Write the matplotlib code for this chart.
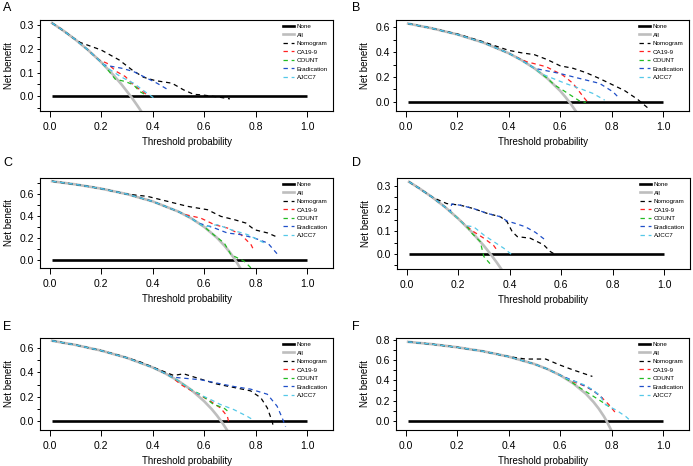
import matplotlib
matplotlib.use("Agg")
import matplotlib.pyplot as plt
from matplotlib.lines import Line2D

plt.rcParams['font.family'] = ['Liberation Sans', 'DejaVu Sans']

# ---- panel A ----
a_all_x = [0.01, 0.05, 0.10, 0.15, 0.20, 0.25, 0.28, 0.30, 0.32, 0.34, 0.36]
a_all_y = [0.308, 0.279, 0.239, 0.194, 0.144, 0.087, 0.049, 0.021, -0.007, -0.038, -0.070]
a_nomo_x = [0.12, 0.20, 0.27, 0.32, 0.365, 0.41, 0.475, 0.52, 0.56, 0.59, 0.66, 0.70]
a_nomo_y = [0.226, 0.195, 0.153, 0.111, 0.080, 0.066, 0.055, 0.027, 0.008, 0.006, -0.004, -0.011]
a_ca_x = [0.19, 0.223, 0.26, 0.294, 0.326, 0.352, 0.378]
a_ca_y = [0.154, 0.139, 0.104, 0.083, 0.048, 0.027, 0.006]
a_count_x = [0.22, 0.255, 0.294, 0.326, 0.35, 0.378]
a_count_y = [0.120, 0.072, 0.062, 0.048, 0.020, 0.003]
a_erad_x = [0.21, 0.28, 0.326, 0.378, 0.417, 0.456]
a_erad_y = [0.132, 0.118, 0.104, 0.076, 0.055, 0.030]
a_ajcc_x = [0.22, 0.236, 0.275, 0.326, 0.378, 0.41]
a_ajcc_y = [0.122, 0.111, 0.083, 0.055, 0.013, -0.011]

# ---- panel B ----
b_all_x = [0.01, 0.10, 0.20, 0.30, 0.40, 0.45, 0.50, 0.55, 0.60, 0.62, 0.64, 0.66]
b_all_y = [0.631, 0.594, 0.544, 0.479, 0.392, 0.336, 0.270, 0.189, 0.088, 0.039, -0.014, -0.074]
b_nomo_x = [0.20, 0.30, 0.35, 0.40, 0.45, 0.50, 0.55, 0.60, 0.65, 0.70, 0.75, 0.80, 0.85, 0.90, 0.94]
b_nomo_y = [0.548, 0.485, 0.450, 0.415, 0.395, 0.380, 0.340, 0.290, 0.270, 0.235, 0.190, 0.140, 0.090, 0.020, -0.050]
b_ca_x = [0.42, 0.47, 0.545, 0.61, 0.65, 0.675, 0.70, 0.71]
b_ca_y = [0.370, 0.323, 0.283, 0.215, 0.148, 0.080, 0.013, 0.000]
b_count_x = [0.55, 0.578, 0.61, 0.65, 0.68, 0.70]
b_count_y = [0.189, 0.135, 0.094, 0.040, 0.000, -0.005]
b_erad_x = [0.50, 0.597, 0.675, 0.753, 0.805, 0.83]
b_erad_y = [0.270, 0.229, 0.188, 0.148, 0.080, 0.027]
b_ajcc_x = [0.53, 0.62, 0.675, 0.727, 0.773]
b_ajcc_y = [0.223, 0.148, 0.108, 0.067, 0.013]

# ---- panel C ----
c_all_x = [0.01, 0.10, 0.20, 0.30, 0.40, 0.50, 0.55, 0.60, 0.65, 0.68, 0.70, 0.72, 0.74]
c_all_y = [0.717, 0.689, 0.650, 0.600, 0.533, 0.440, 0.378, 0.300, 0.200, 0.125, 0.067, 0.000, -0.077]
c_nomo_x = [0.30, 0.38, 0.457, 0.535, 0.613, 0.665, 0.717, 0.762, 0.795, 0.847, 0.886]
c_nomo_y = [0.600, 0.579, 0.534, 0.488, 0.457, 0.396, 0.366, 0.335, 0.274, 0.244, 0.204]
c_ca_x = [0.52, 0.587, 0.64, 0.69, 0.743, 0.782, 0.795]
c_ca_y = [0.416, 0.380, 0.320, 0.290, 0.229, 0.137, 0.076]
c_count_x = [0.64, 0.678, 0.704, 0.756, 0.782]
c_count_y = [0.222, 0.152, 0.046, -0.015, -0.076]
c_erad_x = [0.58, 0.64, 0.69, 0.743, 0.795, 0.847, 0.886]
c_erad_y = [0.333, 0.290, 0.244, 0.229, 0.198, 0.152, 0.046]
c_ajcc_x = [0.60, 0.652, 0.704, 0.769, 0.834]
c_ajcc_y = [0.300, 0.320, 0.274, 0.229, 0.152]

# ---- panel D ----
d_all_x = [0.01, 0.05, 0.10, 0.15, 0.20, 0.25, 0.30, 0.33, 0.35, 0.37]
d_all_y = [0.318, 0.289, 0.250, 0.206, 0.156, 0.100, 0.036, -0.007, -0.038, -0.071]
d_nomo_x = [0.10, 0.156, 0.208, 0.26, 0.312, 0.364, 0.39, 0.41, 0.43, 0.48, 0.532, 0.558, 0.578]
d_nomo_y = [0.250, 0.222, 0.215, 0.200, 0.179, 0.164, 0.142, 0.098, 0.076, 0.069, 0.040, 0.010, -0.004]
d_ca_x = [0.22, 0.26, 0.30, 0.338, 0.35]
d_ca_y = [0.135, 0.098, 0.069, 0.037, 0.018]
d_count_x = [0.24, 0.247, 0.286, 0.30, 0.325]
d_count_y = [0.112, 0.098, 0.054, -0.012, -0.045]
d_erad_x = [0.17, 0.175, 0.208, 0.26, 0.312, 0.364, 0.39, 0.42, 0.46, 0.50, 0.54]
d_erad_y = [0.186, 0.220, 0.215, 0.200, 0.179, 0.164, 0.145, 0.135, 0.120, 0.095, 0.060]
d_ajcc_x = [0.23, 0.26, 0.30, 0.338, 0.377, 0.41]
d_ajcc_y = [0.124, 0.120, 0.083, 0.054, 0.025, -0.005]

# ---- panel E ----
e_all_x = [0.01, 0.10, 0.20, 0.30, 0.40, 0.45, 0.50, 0.55, 0.60, 0.63, 0.65, 0.67, 0.69]
e_all_y = [0.662, 0.628, 0.581, 0.521, 0.442, 0.391, 0.330, 0.256, 0.162, 0.095, 0.043, -0.015, -0.080]
e_nomo_x = [0.27, 0.352, 0.417, 0.482, 0.52, 0.585, 0.65, 0.715, 0.78, 0.82, 0.845, 0.864, 0.87]
e_nomo_y = [0.542, 0.487, 0.430, 0.375, 0.389, 0.346, 0.304, 0.276, 0.248, 0.190, 0.107, -0.006, -0.062]
e_ca_x = [0.47, 0.51, 0.534, 0.585, 0.624, 0.663, 0.69, 0.695]
e_ca_y = [0.368, 0.300, 0.268, 0.211, 0.163, 0.107, 0.037, -0.006]
e_count_x = [0.55, 0.585, 0.637, 0.676, 0.70]
e_count_y = [0.256, 0.220, 0.135, 0.107, 0.065]
e_erad_x = [0.47, 0.482, 0.585, 0.715, 0.78, 0.845, 0.883, 0.903, 0.916]
e_erad_y = [0.368, 0.360, 0.340, 0.284, 0.262, 0.220, 0.121, 0.023, -0.048]
e_ajcc_x = [0.56, 0.624, 0.663, 0.715, 0.767, 0.79]
e_ajcc_y = [0.240, 0.177, 0.135, 0.093, 0.037, 0.008]

# ---- panel F ----
f_all_x = [0.01, 0.10, 0.20, 0.30, 0.40, 0.50, 0.55, 0.60, 0.65, 0.70, 0.73, 0.75, 0.77, 0.78, 0.80]
f_all_y = [0.778, 0.756, 0.725, 0.686, 0.633, 0.560, 0.511, 0.450, 0.371, 0.267, 0.185, 0.120, 0.044, 0.000, -0.100]
f_nomo_x = [0.40, 0.466, 0.544, 0.596, 0.648, 0.725]
f_nomo_y = [0.633, 0.609, 0.609, 0.553, 0.504, 0.438]
f_ca_x = [0.62, 0.648, 0.70, 0.751, 0.79, 0.816]
f_ca_y = [0.421, 0.388, 0.340, 0.257, 0.158, 0.076]
f_count_x = [0.64, 0.674, 0.751, 0.79]
f_count_y = [0.389, 0.330, 0.207, 0.142]
f_erad_x = [0.60, 0.674, 0.725, 0.764]
f_erad_y = [0.450, 0.372, 0.306, 0.224]
f_ajcc_x = [0.62, 0.70, 0.751, 0.777, 0.816, 0.855, 0.874]
f_ajcc_y = [0.421, 0.350, 0.260, 0.158, 0.109, 0.043, 0.000]

model_names = ["Nomogram", "CA19-9", "COUNT", "Eradication", "AJCC7"]
model_colors = ["black", "#FF2020", "#22BB22", "#1F4FC8", "#55C8E8"]
gray = "#BEBEBE"
dash = (0, (3.5, 3))


def join_all(all_x, all_y, xs, ys):
    # model curve sits on the "All" curve until it departs
    px = [x for x in all_x if x < xs[0]]
    py = all_y[:len(px)]
    return px + xs, py + ys


def draw_panel(ax, all_x, all_y, models, ylim, ymajor, yminor):
    ax.plot([0.01, 1.0], [0, 0], color="black", lw=1.9, solid_capstyle="butt")
    ax.plot(all_x, all_y, color=gray, lw=1.9)
    for (xs, ys), col in zip(models, model_colors):
        mx, my = join_all(all_x, all_y, xs, ys)
        ax.plot(mx, my, color=col, lw=0.9, linestyle=dash)
    ax.set_xlim(-0.037, 1.10)
    ax.set_ylim(*ylim)
    ax.set_xticks([0.0, 0.2, 0.4, 0.6, 0.8, 1.0])
    ax.set_yticks(ymajor)
    ax.set_yticks(yminor, minor=True)
    ax.tick_params(axis="x", length=4.5, width=0.7, labelsize=7.5, pad=3.5)
    ax.tick_params(axis="y", which="both", length=2.5, width=0.7, labelsize=7.5, pad=1.5)
    for s in ax.spines.values():
        s.set_linewidth(0.8)
    ax.set_xlabel("Threshold probability", fontsize=7, labelpad=3.5)
    ax.set_ylabel("Net benefit", fontsize=7, labelpad=4)
    handles = [Line2D([], [], color="black", lw=1.9),
               Line2D([], [], color=gray, lw=1.9)]
    handles += [Line2D([], [], color=c, lw=0.9, linestyle=dash) for c in model_colors]
    ax.legend(handles, ["None", "All"] + model_names, loc="upper right",
              bbox_to_anchor=(0.995, 1.0), frameon=False, fontsize=4.5,
              handlelength=1.8, handletextpad=0.35, labelspacing=0.5,
              borderaxespad=0.2)


fig = plt.figure(figsize=(6.93, 4.66), dpi=100)
W, H = 693.0, 466.0

panels = [
    ("A", 40, 20, 111, a_all_x, a_all_y,
     [(a_nomo_x, a_nomo_y), (a_ca_x, a_ca_y), (a_count_x, a_count_y), (a_erad_x, a_erad_y), (a_ajcc_x, a_ajcc_y)],
     (-0.062, 0.321), [0.0, 0.1, 0.2, 0.3], [-0.05, 0.05, 0.15, 0.25], (3, 8)),
    ("B", 396, 20, 111, b_all_x, b_all_y,
     [(b_nomo_x, b_nomo_y), (b_ca_x, b_ca_y), (b_count_x, b_count_y), (b_erad_x, b_erad_y), (b_ajcc_x, b_ajcc_y)],
     (-0.075, 0.66), [0.0, 0.2, 0.4, 0.6], [0.1, 0.3, 0.5], (352, 8)),
    ("C", 40, 178, 268, c_all_x, c_all_y,
     [(c_nomo_x, c_nomo_y), (c_ca_x, c_ca_y), (c_count_x, c_count_y), (c_erad_x, c_erad_y), (c_ajcc_x, c_ajcc_y)],
     (-0.076, 0.747), [0.0, 0.2, 0.4, 0.6], [0.1, 0.3, 0.5, 0.7], (3, 163)),
    ("D", 397, 178, 269, d_all_x, d_all_y,
     [(d_nomo_x, d_nomo_y), (d_ca_x, d_ca_y), (d_count_x, d_count_y), (d_erad_x, d_erad_y), (d_ajcc_x, d_ajcc_y)],
     (-0.067, 0.335), [0.0, 0.1, 0.2, 0.3], [-0.05, 0.05, 0.15, 0.25], (352, 163)),
    ("E", 40, 338, 430, e_all_x, e_all_y,
     [(e_nomo_x, e_nomo_y), (e_ca_x, e_ca_y), (e_count_x, e_count_y), (e_erad_x, e_erad_y), (e_ajcc_x, e_ajcc_y)],
     (-0.076, 0.685), [0.0, 0.2, 0.4, 0.6], [0.1, 0.3, 0.5], (3, 327)),
    ("F", 396, 338, 430, f_all_x, f_all_y,
     [(f_nomo_x, f_nomo_y), (f_ca_x, f_ca_y), (f_count_x, f_count_y), (f_erad_x, f_erad_y), (f_ajcc_x, f_ajcc_y)],
     (-0.089, 0.816), [0.0, 0.2, 0.4, 0.6, 0.8], [0.1, 0.3, 0.5, 0.7], (352, 327)),
]

for letter, left, top, bottom, ax_x, ax_y, models, ylim, ymaj, ymin, lab in panels:
    ax = fig.add_axes([left / W, 1 - bottom / H, 293 / W, (bottom - top) / H])
    draw_panel(ax, ax_x, ax_y, models, ylim, ymaj, ymin)
    fig.text(lab[0] / W, 1 - lab[1] / H, letter, fontsize=9, ha="left", va="center")

fig.savefig("out.png", dpi=100)
